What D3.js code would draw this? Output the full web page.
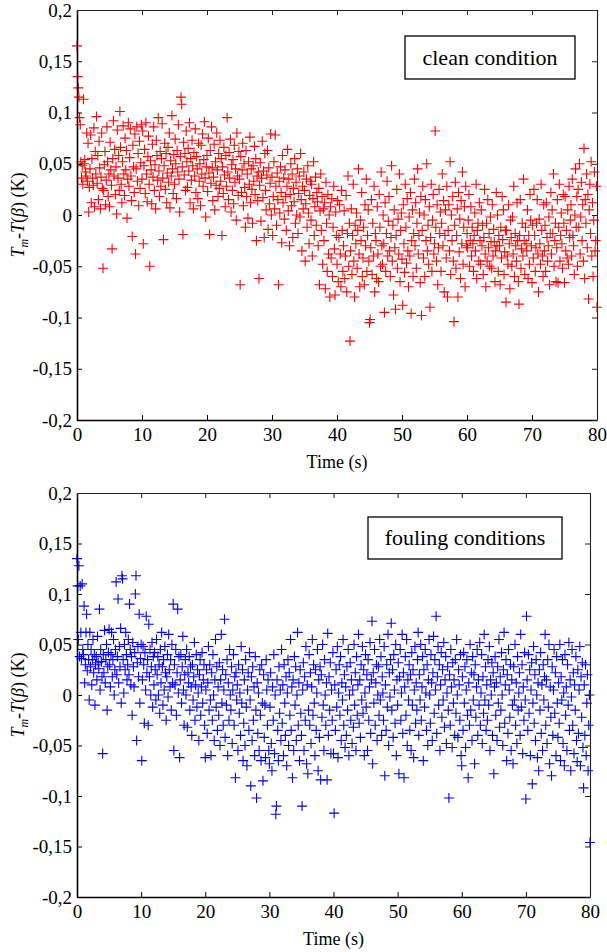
<!DOCTYPE html>
<html><head><meta charset="utf-8">
<script src="https://cdn.jsdelivr.net/npm/d3@7/dist/d3.min.js"></script>
<style>body{margin:0;background:#fff}svg{display:block}
svg text{font-family:"Liberation Serif","Times New Roman","DejaVu Serif",Times,serif;}</style>
</head><body>
<svg id="chart" width="607" height="952"></svg>
<script>
// ---------- data ----------
const xTicks = [0, 10, 20, 30, 40, 50, 60, 70, 80];
const yTicks = [0.2, 0.15, 0.1, 0.05, 0, -0.05, -0.1, -0.15, -0.2];
const yTickLabels = ["0,2", "0,15", "0,1", "0,05", "0", "-0,05", "-0,1", "-0,15", "-0,2"];
const xTitle = "Time (s)";
const sampleInterval = 0.1; // s between successive samples, first sample at t = 0
// temperature differences in mK, one sample every 0.1 s
const cleanValues = [
165,135,124,115,95,88,52,36,48,30,
113,50,54,42,38,80,33,70,3,27,
45,78,12,55,36,29,85,8,62,40,
96,31,58,15,72,46,6,37,80,26,
-52,24,49,62,10,34,86,52,18,40,
8,71,44,29,-33,55,92,38,64,20,
47,1,83,36,58,24,101,66,30,12,
52,87,40,19,75,44,63,-3,35,90,
28,56,84,38,14,-21,68,47,22,79,
-38,45,86,33,60,9,72,26,51,88,
35,82,-28,48,64,21,90,40,13,57,
77,30,-50,53,44,11,69,37,86,24,
49,6,73,58,34,95,43,18,62,28,
55,89,36,-24,48,70,25,60,12,41,
66,32,80,7,53,38,97,45,21,59,
30,74,50,16,63,42,88,35,3,57,
115,108,47,-19,71,39,60,24,82,52,
27,65,43,90,12,55,34,73,48,6,
61,38,84,22,57,45,16,70,33,50,
9,68,40,79,28,54,91,36,-2,47,
58,23,75,41,-19,63,31,86,46,14,
37,69,5,52,29,80,44,18,60,26,
73,33,55,-20,47,21,66,39,8,58,
28,95,42,15,61,36,74,3,49,24,
54,11,68,32,45,-5,80,38,19,62,
35,-68,57,22,44,70,9,50,27,-12,
63,18,40,-3,52,30,76,12,45,25,
-8,48,33,67,20,55,-25,38,14,42,
-62,29,51,-6,36,72,17,43,-22,60,
24,5,39,63,-14,46,11,31,79,0,
37,-20,18,52,6,78,28,-10,41,15,
-68,33,2,47,22,-27,58,12,36,-4,
44,18,-15,28,64,4,35,-30,20,50,
9,40,-22,26,13,55,-8,32,0,45,
-18,21,38,-2,60,15,-35,28,6,42,
24,-45,11,35,-12,48,2,-28,19,33,
-5,30,-40,16,52,-20,8,37,-10,22,
13,-30,26,-68,4,40,-15,18,-48,6,
-25,12,-72,32,-8,-55,20,-38,0,-80,
8,-42,16,-60,-12,28,-33,-78,3,-20,
-48,14,-65,-22,10,-38,-70,24,-15,-55,
-30,4,-62,-40,19,-75,-18,38,-50,-8,
-123,-35,6,-58,-20,30,-45,-80,-10,-28,
2,-52,-15,45,-38,-70,-5,-25,22,-60,
-42,-12,-68,10,-30,35,-55,-20,5,-45,
-105,-102,-32,15,-58,-8,-40,28,-75,-18,
-25,-62,8,-38,-65,20,-12,-50,42,-30,
-48,0,-28,-95,12,-55,-18,33,-40,-6,
18,-35,-60,-22,48,-45,-10,-78,5,-32,
-92,-20,25,-52,-4,-38,40,-65,-15,2,
-43,-88,10,-28,-56,30,-12,-47,16,-35,
-70,-2,-40,22,-96,-25,5,-60,-18,35,
-30,12,-52,-8,45,-38,-20,2,-66,18,
-98,-15,28,-42,0,-60,15,-25,50,-35,
-10,-48,8,-90,-22,30,-55,-5,20,-38,
-28,82,-12,-45,10,-68,-32,25,-18,3,
-55,-8,40,-30,14,-75,-20,5,-42,28,
-80,-15,10,-35,52,-58,0,-25,18,-45,
-104,-10,32,-52,-20,6,-80,22,-36,-4,
-62,14,-28,42,-48,-12,8,-70,28,-30,
-18,-32,-5,20,-50,-25,8,-40,-12,-28,
-55,-20,2,-35,30,-62,-15,-8,-45,12,
-25,-48,5,-30,-10,-58,-22,25,-38,-70,
-8,-45,15,-32,-18,-50,-2,-26,-52,10,
-40,-14,-26,-65,-35,22,-30,0,-55,-20,
-30,-68,-12,-42,18,-24,5,-58,-36,-15,
-85,-15,-40,-48,10,-28,-72,-5,-22,-50,
-2,-38,28,-60,-18,-30,-45,12,-25,-65,
-87,-20,15,-52,-33,-8,-40,35,-25,-58,
-12,-28,-35,5,-62,-20,-48,20,-5,-30,
-66,-10,-42,25,-20,-55,-32,-8,15,-38,
-75,-4,-28,-48,30,-15,-40,-60,10,-35,
-10,-55,12,-22,-45,-30,-2,-68,-18,22,
-38,5,-18,40,-50,-25,-8,-65,-32,15,
-66,-12,30,-45,-20,2,-28,-52,20,-8,
-66,18,-35,-15,-42,5,-48,28,-22,-5,
10,-40,35,-20,-30,-58,0,45,-12,18,
-50,25,-12,50,-38,-2,32,-25,10,-45,
65,-62,15,-8,40,-32,20,-82,5,30,
-18,52,-40,12,-60,-5,42,-35,-25,28,
-90
];
const foulingValues = [
135,108,55,128,38,108,62,36,110,45,
40,88,12,30,62,80,24,50,35,-5,
62,28,45,10,35,55,22,40,-10,30,
38,15,58,32,26,85,5,45,33,18,
-58,40,22,64,12,35,50,-15,28,42,
65,30,8,40,62,18,35,55,0,25,
45,112,20,38,95,12,48,28,66,-8,
118,115,35,2,50,25,62,40,15,30,
55,20,90,45,10,38,-20,52,28,8,
42,100,118,-45,32,48,18,80,-8,36,
50,-65,15,48,30,-28,42,5,78,22,
35,-30,70,18,45,0,28,52,-12,38,
10,42,25,-5,55,20,38,0,30,-18,
45,12,62,28,-10,35,5,48,22,-25,
18,40,-2,60,25,8,35,-15,50,12,
90,-55,30,10,45,-20,22,85,2,38,
-62,15,40,-8,28,58,5,-30,20,35,
0,45,-32,22,12,38,-15,28,8,-40,
30,-5,18,52,-25,10,40,-12,25,2,
-45,20,35,-20,8,42,-8,15,30,-30,
-62,5,25,-38,12,48,-15,30,-5,-60,
22,-25,40,0,-45,15,55,-12,28,-35,
8,-20,32,-50,15,60,-8,25,-30,5,
75,-42,20,-10,35,-60,12,-25,45,0,
-15,28,-48,5,40,-30,18,-82,22,-5,
10,-55,30,-18,2,-40,48,-8,25,-65,
-28,15,-50,35,-12,-70,5,22,-35,42,
-5,-90,18,-45,28,-25,8,-60,38,-15,
-102,12,-38,2,-55,25,-20,-65,30,-8,
-85,20,-42,-10,-62,35,5,-30,15,-55,
-68,-12,22,-48,-75,8,-25,40,-58,0,
-118,-110,15,-35,-65,28,-18,5,-45,45,
-28,10,-60,30,-8,-40,18,-70,2,35,
-50,22,-20,55,-35,8,-82,15,-55,38,
-10,28,-45,0,62,-30,12,-65,25,-18,
-40,-110,5,32,-55,18,-25,48,-68,10,
-78,-15,40,-30,22,-48,8,55,-20,30,
-8,-60,25,-35,2,45,-75,15,-42,28,
-84,20,-22,50,-10,-55,35,0,-30,12,
-84,61,-40,18,-15,32,-58,5,-25,42,
-58,-117,10,-35,25,-12,48,-62,2,30,
-20,38,-45,12,-5,55,-30,20,-52,8,
-40,28,-15,45,-60,0,32,-25,15,-48,
5,-32,50,-10,22,-55,38,-20,10,60,
-28,15,-42,30,-5,48,-18,25,-60,2,
40,-12,20,-55,35,-25,8,52,-38,15,
73,-68,22,-8,45,-30,12,30,-45,0,
28,-20,55,-5,38,-40,18,2,-25,48,
-80,10,-35,30,-12,60,-50,22,-2,35,
71,-15,25,-42,40,5,-28,50,-60,15,
-10,32,-78,18,45,-25,2,60,-38,22,
-82,8,38,-20,55,-50,15,-5,30,-35,
20,-55,42,-10,25,-62,5,48,-28,12,
-15,35,62,-40,20,-5,50,-25,8,38,
-65,25,-12,45,2,-35,30,-50,15,55,
0,-28,40,12,-45,22,58,-18,35,5,
78,-38,18,48,-10,30,-55,10,42,-22,
25,-5,52,-32,15,38,-48,2,28,-15,
-102,20,-30,45,8,-52,32,-8,15,-40,
35,-18,55,0,-42,25,10,-25,40,-60,
-70,18,-35,42,-8,28,-52,5,35,-20,
-82,12,-30,50,-15,22,-45,38,-5,20,
-68,30,-22,8,45,-40,15,-10,52,-30,
2,40,-48,18,-18,60,-5,28,-35,10,
-25,35,-10,48,-55,15,0,32,-40,22,
-78,8,38,-20,12,-45,28,-8,55,-32,
18,-15,42,0,-50,25,62,-28,10,35,
-65,20,-38,45,5,-22,30,-55,15,-10,
-68,28,-5,50,-30,12,-48,38,-15,2,
22,-40,60,-12,30,-58,8,-25,42,-5,
-103,78,15,-35,40,-18,25,-60,5,32,
-88,-8,48,-28,20,-45,35,0,-62,12,
-75,25,-15,42,-38,10,-55,30,-5,18,
60,-30,15,-48,35,-12,50,-68,8,-22,
-80,28,-40,5,45,-18,22,-60,38,-8,
-42,12,-28,50,-65,18,-5,35,-48,2,
-70,40,-20,8,-55,30,-10,52,-35,15,
-75,-2,45,-30,22,-58,10,-15,38,-45,
-66,25,-38,5,48,-70,18,-22,32,-52,
-92,10,-40,30,-60,-8,20,-75,-30,0,
-146
];

// ---------- layout ----------
const panels = [
  { values: cleanValues, color: "#ff0000", legend: "clean condition",
    left: 77, right: 597, top: 10, bottom: 420,
    box: { x: 405, y: 36, w: 170, h: 43 } },
  { values: foulingValues, color: "#0000ff", legend: "fouling conditions",
    left: 77, right: 590, top: 493, bottom: 897,
    box: { x: 368, y: 517, w: 194, h: 42 } }
];

const svg = d3.select("#chart");
svg.append("rect").attr("width", 607).attr("height", 952).attr("fill", "#fff");

panels.forEach(p => {
  const x = d3.scaleLinear().domain([0, 80]).range([p.left, p.right]);
  const y = d3.scaleLinear().domain([-0.2, 0.2]).range([p.bottom, p.top]);
  const g = svg.append("g");

  // points
  const pts = p.values.map((v, i) => ({ t: i * sampleInterval, v: v / 1000 }));
  g.append("g").selectAll("path").data(pts).join("path")
    .attr("transform", d => `translate(${x(d.t)},${y(d.v)})`)
    .attr("d", "M-5,0H5M0,-5V5")
    .attr("fill", "none").attr("stroke", p.color).attr("stroke-width", 1.1);

  const fmt = v => yTickLabels[yTicks.indexOf(v)];

  // axes
  const bottomAx = g.append("g").attr("transform", `translate(0,${p.bottom})`)
    .call(d3.axisBottom(x).tickValues(xTicks).tickSizeInner(-5).tickSizeOuter(0).tickPadding(8));
  const leftAx = g.append("g").attr("transform", `translate(${p.left},0)`)
    .call(d3.axisLeft(y).tickValues(yTicks).tickFormat(fmt).tickSizeInner(-5).tickSizeOuter(0).tickPadding(5));
  const topAx = g.append("g").attr("transform", `translate(0,${p.top})`)
    .call(d3.axisTop(x).tickValues(xTicks).tickFormat("").tickSizeInner(-5).tickSizeOuter(0));
  const rightAx = g.append("g").attr("transform", `translate(${p.right},0)`)
    .call(d3.axisRight(y).tickValues(yTicks).tickFormat("").tickSizeInner(-5).tickSizeOuter(0));

  [bottomAx, leftAx, topAx, rightAx].forEach(a => a.attr("font-family", null));
  [bottomAx, leftAx].forEach(a => {
    a.select(".domain").attr("stroke", "#000").attr("stroke-width", 1.6);
    a.selectAll(".tick line").attr("stroke", "#000").attr("stroke-width", 1);
    a.selectAll("text").attr("font-size", 19).attr("fill", "#000");
  });
  [topAx, rightAx].forEach(a => {
    a.select(".domain").attr("stroke", "#222").attr("stroke-width", 1.1);
    a.selectAll(".tick line").attr("stroke", "#222").attr("stroke-width", 1);
  });

  // x title
  g.append("text").attr("x", (p.left + p.right) / 2).attr("y", p.bottom + 48)
    .attr("text-anchor", "middle").attr("font-size", 18)
    .text(xTitle);

  // y title
  const cy = (p.top + p.bottom) / 2;
  const yt = g.append("text").attr("transform", `translate(24,${cy}) rotate(-90)`)
    .attr("text-anchor", "middle").attr("font-size", 18);
  yt.append("tspan").attr("font-style", "italic").text("T");
  yt.append("tspan").attr("font-style", "italic").attr("font-size", 12).attr("dy", 4).text("m");
  yt.append("tspan").attr("dy", -4).text("-");
  yt.append("tspan").attr("font-style", "italic").text("T");
  yt.append("tspan").text("(");
  yt.append("tspan").attr("font-style", "italic").text("β");
  yt.append("tspan").text(") (K)");

  // legend box
  g.append("rect").attr("x", p.box.x).attr("y", p.box.y).attr("width", p.box.w).attr("height", p.box.h)
    .attr("fill", "#fff").attr("stroke", "#000").attr("stroke-width", 1.3);
  g.append("text").attr("x", p.box.x + p.box.w / 2).attr("y", p.box.y + p.box.h / 2 + 7)
    .attr("text-anchor", "middle").attr("font-size", 22)
    .text(p.legend);
});
</script>
</body></html>
